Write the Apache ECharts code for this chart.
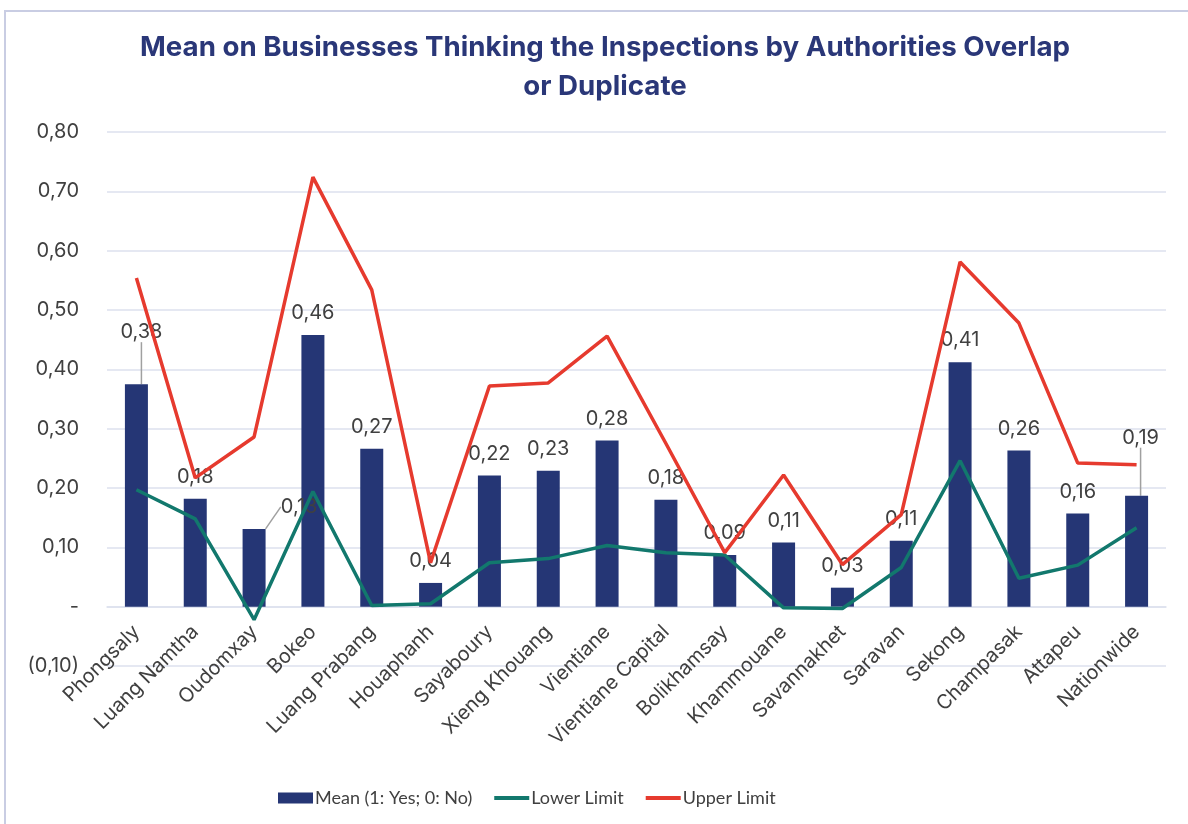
<!DOCTYPE html>
<html><head><meta charset="utf-8">
<script src="https://cdn.jsdelivr.net/npm/echarts@6/dist/echarts.min.js"></script>
<style>
html,body{margin:0;padding:0;background:#fff;}
#wrap{position:absolute;left:0;top:0;width:1188px;height:824px;}
#frame{position:absolute;left:4px;top:10px;width:1200px;height:830px;border-left:2px solid #c9cde3;border-top:2px solid #c9cde3;}
#chart{position:absolute;left:0;top:0;width:1188px;height:824px;}
</style></head>
<body><div id="wrap"><div id="frame"></div><div id="chart"></div></div>
<script>
const categories = ["Phongsaly","Luang Namtha","Oudomxay","Bokeo","Luang Prabang","Houaphanh","Sayaboury","Xieng Khouang","Vientiane","Vientiane Capital","Bolikhamsay","Khammouane","Savannakhet","Saravan","Sekong","Champasak","Attapeu","Nationwide"];
const meanValues = [0.375,0.182,0.131,0.458,0.266,0.040,0.221,0.229,0.280,0.180,0.087,0.108,0.032,0.111,0.412,0.263,0.157,0.187];
const lowerLimit = [0.197,0.148,-0.022,0.194,0.002,0.005,0.074,0.081,0.103,0.091,0.087,-0.002,-0.003,0.066,0.246,0.048,0.070,0.133];
const upperLimit = [0.554,0.217,0.286,0.724,0.534,0.074,0.372,0.377,0.456,0.275,0.091,0.222,0.071,0.155,0.581,0.478,0.242,0.239];
const seriesNames = ["Mean (1: Yes; 0: No)","Lower Limit","Upper Limit"];
const titleText = "Mean on Businesses Thinking the Inspections by Authorities Overlap\nor Duplicate";

const fmt = v => v.toFixed(2).replace('.', ',');
const Y_MIN = -0.1, Y_MAX = 0.8;
const GRID_TOP = 132, GRID_BOTTOM = 158, H = 824;
const plotH = H - GRID_TOP - GRID_BOTTOM;
const zeroOffset = -plotH * (0 - Y_MIN) / (Y_MAX - Y_MIN);

const chart = echarts.init(document.getElementById('chart'), null, {renderer:'canvas'});
const labelShift = {0:{dx:5,dy:-30}, 2:{dx:45,dy:0}, 17:{dx:4,dy:-36}};
const barData = meanValues.map((v,i)=> labelShift[i] ? {value:v,labelLine:{show:true}} : v);
chart.setOption({
  animation:false,
  textStyle:{fontFamily:'Inter'},
  title:{text:titleText,left:600,top:23,textAlign:'center',
    textStyle:{fontFamily:'Inter',fontWeight:'bold',fontSize:27.7,lineHeight:39,color:'#2a3778'}},
  legend:{left:273,top:784,itemWidth:35,itemHeight:11,itemGap:22,
    textStyle:{fontFamily:'Lato',fontSize:18,color:'#404040',padding:[0,0,0,-3]},
    data:[{name:seriesNames[0],icon:'rect'},
          {name:seriesNames[1],icon:'path://M0,0 H100 V11 H0 Z'},
          {name:seriesNames[2],icon:'path://M0,0 H100 V11 H0 Z'}]},
  grid:{left:107,right:22,top:GRID_TOP,bottom:GRID_BOTTOM},
  xAxis:{type:'category',data:categories,offset:zeroOffset,
    axisLine:{onZero:false,lineStyle:{color:'#dde1ee',width:1.5}},
    axisTick:{show:false},
    axisLabel:{rotate:45,interval:0,margin:22,fontSize:20,color:'#404040',fontFamily:'Inter'}},
  yAxis:{type:'value',min:Y_MIN,max:Y_MAX,interval:0.1,
    axisLine:{show:false},axisTick:{show:false},
    splitLine:{lineStyle:{color:'#dde1ee',width:1.5}},
    axisLabel:{margin:28,fontSize:20,color:'#404040',fontFamily:'Inter',
      formatter:v=>{v=Math.round(v*100)/100; if(Math.abs(v)<1e-9) return '-'; if(v<0) return '('+fmt(-v)+')'; return fmt(v);}}},
  series:[
    {name:seriesNames[0],type:'bar',data:barData,barWidth:23,
      itemStyle:{color:'#253675'},
      label:{show:true,position:'top',distance:12,fontSize:20,color:'#404040',fontFamily:'Inter',
        formatter:p=>fmt(p.value)},
      labelLine:{show:false,lineStyle:{color:'#a0a0a0',width:1.5}},
      labelLayout:p=>labelShift[p.dataIndex]||{} , z:2},
    {name:seriesNames[1],type:'line',data:lowerLimit,symbol:'none',
      lineStyle:{color:'#12786d',width:3.5},itemStyle:{color:'#12786d'},z:3},
    {name:seriesNames[2],type:'line',data:upperLimit,symbol:'none',
      lineStyle:{color:'#e63a2e',width:3.5},itemStyle:{color:'#e63a2e'},z:3}
  ]
});
</script></body></html>
